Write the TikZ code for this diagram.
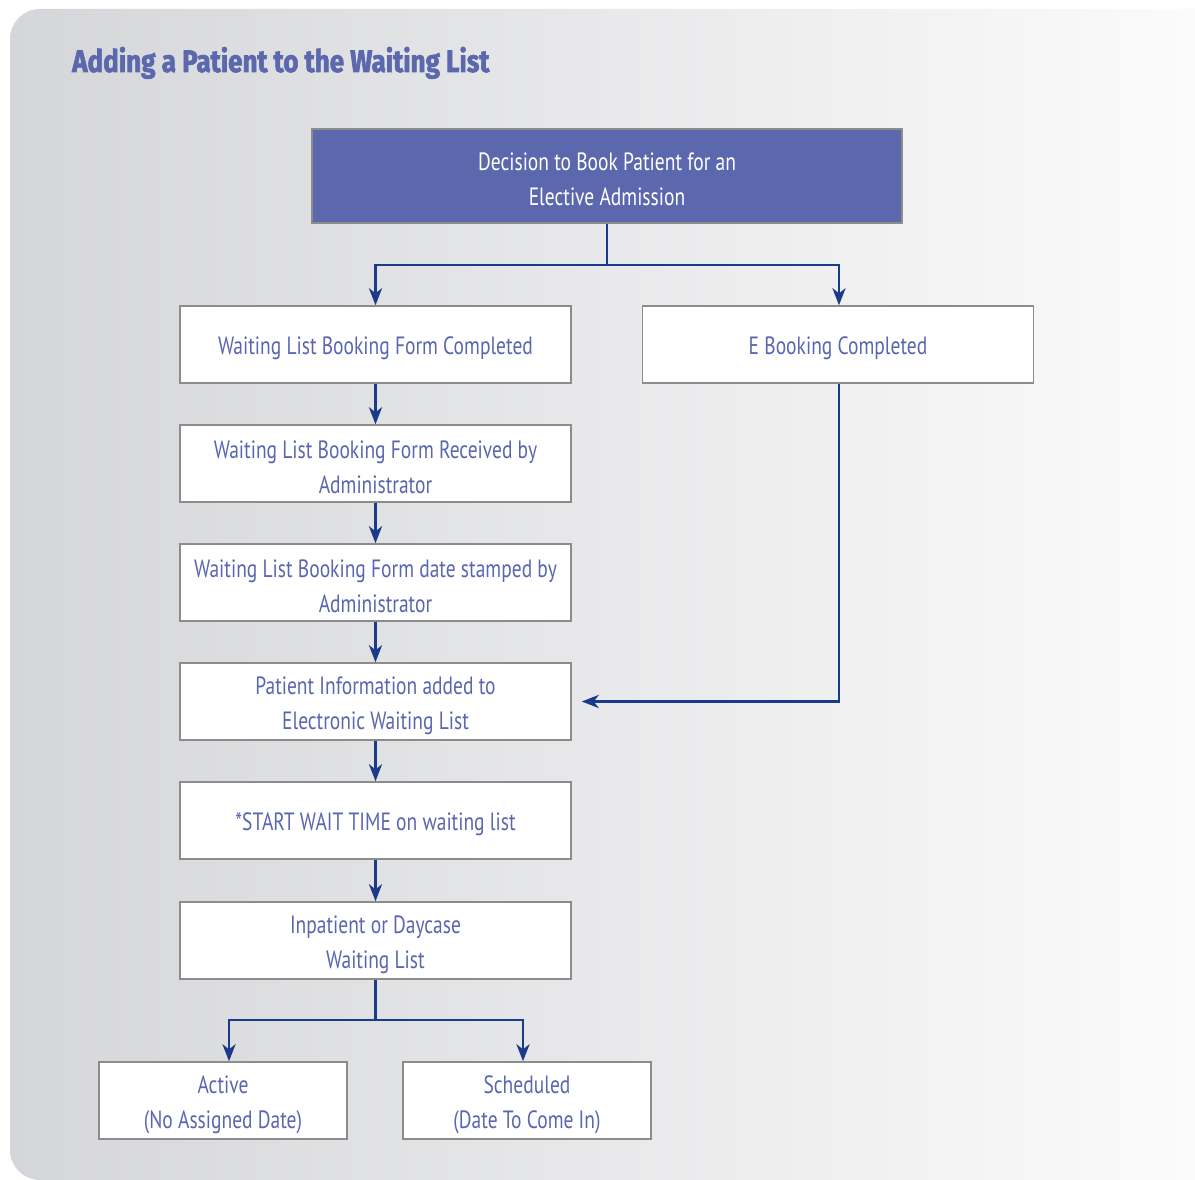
\documentclass[tikz,border=0pt]{standalone}
\usepackage{fontspec}
\usetikzlibrary{arrows.meta}
\setmainfont{PT Sans}
\newfontfamily\titlefont{Fira Sans}[FakeStretch=0.84, BoldFeatures={FakeBold=2}]
\newfontfamily\boxfont{PT Sans}[FakeStretch=0.78]

\definecolor{bgleft}{RGB}{213,214,217}
\definecolor{bgright}{RGB}{251,251,251}
\definecolor{headblue}{RGB}{91,104,174}
\definecolor{txtblue}{RGB}{90,102,176}
\definecolor{linkblue}{RGB}{28,58,140}
\definecolor{edgegray}{RGB}{140,140,140}

\tikzset{
  boxtext/.style={inner sep=0pt, align=center, text=txtblue,
    font=\boxfont\fontsize{25}{35}\selectfont},
  % box outline, with its text set a little below the middle
  stepbox/.style={draw=edgegray, line width=1.4pt, fill=white,
    minimum width=391pt, minimum height=77pt, inner sep=0pt,
    label={[boxtext, yshift=-4pt]center:{#1}}},
  smallbox/.style={stepbox={#1}, minimum width=248pt},
  headbox/.style={draw=edgegray, line width=1.4pt, fill=headblue,
    minimum width=590pt, minimum height=94pt, inner sep=0pt,
    label={[boxtext, text=white, yshift=-3pt]center:{#1}}},
  link/.style={draw=linkblue, line width=2.9pt,
    -{Stealth[length=17pt,width=13pt,inset=5pt]}},
  plain/.style={draw=linkblue, line width=2.9pt}
}

\begin{document}
\begin{tikzpicture}[x=1pt,y=-1pt]
\useasboundingbox (0,0) rectangle (1195,1180);

% panel with rounded left corners and a horizontal fade
\shade[left color=bgleft, right color=bgright]
  (1195,9) -- (40,9) arc[start angle=270, end angle=180, radius=30]
  -- (10,1150) arc[start angle=180, end angle=90, radius=30]
  -- (1195,1180) -- cycle;

% heading
\node[anchor=base west, inner sep=0pt, text=headblue,
      font=\titlefont\bfseries\fontsize{31}{31}\selectfont]
  (title) at (72,72) {Adding a Patient to the Waiting List};

% boxes
\node[headbox={Decision to Book Patient for an\\Elective Admission}] (decide) at (607,176) {};
\node[stepbox={Waiting List Booking Form Completed}] (form) at (375.5,344.5) {};
\node[stepbox={E Booking Completed}] (ebook) at (838,344.5) {};
\node[stepbox={Waiting List Booking Form Received by\\Administrator}] (recv) at (375.5,463.5) {};
\node[stepbox={Waiting List Booking Form date stamped by\\Administrator}] (stamp) at (375.5,582.5) {};
\node[stepbox={Patient Information added to\\Electronic Waiting List}] (added) at (375.5,701.5) {};
\node[stepbox={*START WAIT TIME on waiting list}] (start) at (375.5,820.5) {};
\node[stepbox={Inpatient or Daycase\\Waiting List}] (wlist) at (375.5,940.5) {};
\node[smallbox={Active\\(No Assigned Date)}] (active) at (223,1100.5) {};
\node[smallbox={Scheduled\\(Date To Come In)}] (sched) at (527,1100.5) {};

% junction points
\coordinate (splitA) at (607,265);
\coordinate (splitB) at (375.5,1020);

% connectors
\draw[plain] (decide.south) -- (splitA);
\draw[link] (splitA) -| (form.north);
\draw[link] (splitA) -| ([xshift=1pt]ebook.north);
\draw[link] (form.south) -- (recv.north);
\draw[link] (recv.south) -- (stamp.north);
\draw[link] (stamp.south) -- (added.north);
\draw[link, shorten >=10pt] ([xshift=1pt]ebook.south) |- (added.east);
\draw[link] (added.south) -- (start.north);
\draw[link] (start.south) -- (wlist.north);
\draw[plain] (wlist.south) -- (splitB);
\draw[link] (splitB) -| ([xshift=6pt]active.north);
\draw[link] (splitB) -| ([xshift=-4pt]sched.north);
\end{tikzpicture}
\end{document}
